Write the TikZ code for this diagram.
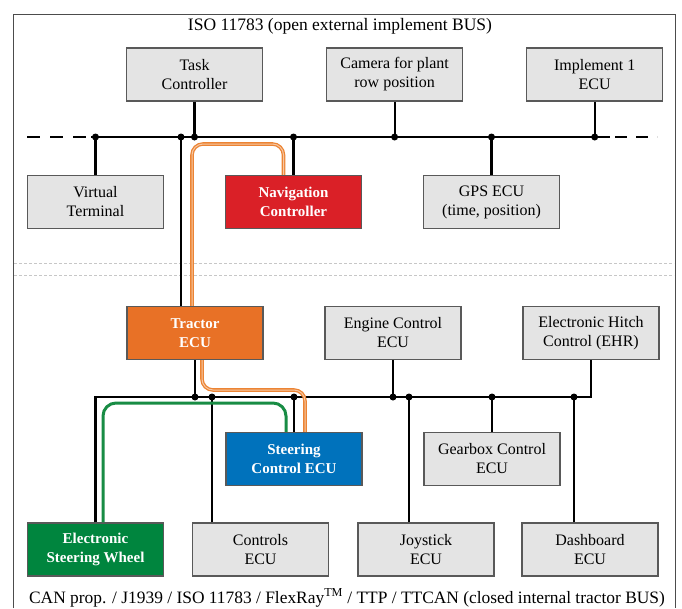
\documentclass[tikz,border=0pt]{standalone}
\usepackage{fontspec}
\setmainfont{Liberation Serif}
\usetikzlibrary{positioning, calc}

\definecolor{boxgray}{RGB}{228,228,228}
\definecolor{navred}{RGB}{218,32,39}
\definecolor{tracorange}{RGB}{232,113,38}
\definecolor{steerblue}{RGB}{0,114,188}
\definecolor{wheelgreen}{RGB}{0,133,62}
\definecolor{cableorange}{RGB}{236,132,52}
\definecolor{cablegreen}{RGB}{24,140,68}

\begin{document}
\begin{tikzpicture}[x=1pt, y=-1pt,
    ecu/.style={draw=black!65, line width=1.1pt, fill=boxgray, minimum width=136pt, minimum height=53pt,
        inner sep=0pt, align=center, font=\fontsize{16}{19}\selectfont},
    hotecu/.style={ecu, fill=#1, text=white, font=\fontsize{15}{19}\selectfont\bfseries},
    bus/.style={line width=2.2pt},
    tap/.style={line width=2.2pt},
    sepline/.style={black!22, line width=0.8pt, dash pattern=on 3pt off 2pt},
    orangecable/.style={draw=cableorange, double=cableorange!45, double distance=1pt, line width=1.3pt, rounded corners=11pt},
    greencable/.style={draw=cablegreen, line width=3pt, rounded corners=13pt}
]
    \useasboundingbox (0,0) rectangle (682,608);
    \draw [black!70, line width=1pt] (13,608) -- (13,14) -- (675,14) -- (675,608);
    \draw [sepline] (14,263) -- (674,263);
    \draw [sepline] (14,275) -- (674,275);

    \node (TopTitle) at (340,26) {\fontsize{17.5}{19}\selectfont ISO 11783 (open external implement BUS)};
    \node (BotTitle) at (347,598) {\fontsize{17.4}{19}\selectfont CAN prop. / J1939 / ISO 11783 / FlexRay\textsuperscript{TM} / TTP / TTCAN (closed internal tractor BUS)};

    % implement side
    \node (TaskCtrl) [ecu] at (194.5,74.5) {Task\\Controller};
    \node (Camera) [ecu, right=63pt of TaskCtrl] {Camera for plant\\row position};
    \node (Impl) [ecu, right=63pt of Camera] {Implement 1\\ECU};
    \node (VirtTerm) [ecu] at (95.5,202) {Virtual\\Terminal};
    \node (NavCtrl) [hotecu=navred] at (293.5,202) {Navigation\\Controller};
    \node (GPS) [ecu] at (491.5,202) {GPS ECU\\(time, position)};

    % tractor side
    \node (Tractor) [hotecu=tracorange] at (195,333) {Tractor\\ECU};
    \node (Engine) [ecu] at (393,333) {Engine Control\\ECU};
    \node (EHR) [ecu] at (591,333) {Electronic Hitch\\Control (EHR)};
    \node (SteerCtrl) [hotecu=steerblue] at (294,459) {Steering\\Control ECU};
    \node (Gearbox) [ecu] at (492,459) {Gearbox Control\\ECU};
    \node (ESW) [hotecu=wheelgreen] at (95.5,549.5) {Electronic\\Steering Wheel};
    \node (Controls) [ecu] at (260.5,549.5) {Controls\\ECU};
    \node (Joystick) [ecu] at (426,549.5) {Joystick\\ECU};
    \node (Dashboard) [ecu] at (590,549.5) {Dashboard\\ECU};

    \coordinate (TopBus) at (0,137);
    \coordinate (LowBus) at (0,397);
    \coordinate (TrUp) at ($(Tractor.north)+(-14,0)$);
    \coordinate (CtlUp) at ($(Controls.north)+(-48.5,0)$);
    \coordinate (JoyUp) at ($(Joystick.north)+(-17,0)$);
    \coordinate (DashUp) at ($(Dashboard.north)+(-16,0)$);

    % ISO 11783 bus
    \draw [bus, dash pattern=on 13pt off 10pt] (27,137) -- (89,137);
    \draw [bus] (91,137) -- (610,137);
    \draw [bus, dash pattern=on 12pt off 9pt] (615,137) -- (657,137);
    \foreach \n in {TaskCtrl, Camera, Impl, VirtTerm, NavCtrl, GPS}
        \draw [tap] (\n) -- (\n |- TopBus);
    \draw [tap] (TrUp) -- (TrUp |- TopBus);
    \foreach \n in {VirtTerm, TrUp, TaskCtrl, NavCtrl, Camera, GPS, Impl}
        \fill (\n |- TopBus) circle (3.5pt);

    % internal bus
    \draw [bus] (ESW.north) |- (EHR.south |- LowBus) -- (EHR.south);
    \foreach \n in {Tractor, Engine, SteerCtrl, Gearbox}
        \draw [tap] (\n) -- (\n |- LowBus);
    \foreach \n in {CtlUp, JoyUp, DashUp}
        \draw [tap] (\n) -- (\n |- LowBus);
    \foreach \n in {Tractor, CtlUp, SteerCtrl, Engine, JoyUp, Gearbox, DashUp}
        \fill (\n |- LowBus) circle (3.5pt);

    % cables
    \coordinate (OrTop) at (0,144);
    \coordinate (OrLow) at (0,390);
    \coordinate (GrLow) at (0,403);
    \coordinate (NavOut) at ($(NavCtrl.north)+(-10,0)$);
    \coordinate (TrIn) at ($(Tractor.north)+(-3,0)$);
    \coordinate (TrOut) at ($(Tractor.south)+(7,0)$);
    \coordinate (SteerOr) at ($(SteerCtrl.north)+(11,0)$);
    \coordinate (SteerGr) at ($(SteerCtrl.north)+(-8,0)$);
    \coordinate (EswOut) at ($(ESW.north)+(7.5,0)$);
    \draw [orangecable] (NavOut) |- (TrIn |- OrTop) -- (TrIn);
    \draw [orangecable] (TrOut) |- (SteerOr |- OrLow) -- (SteerOr);
    \draw [greencable] (EswOut) |- (SteerGr |- GrLow) -- (SteerGr);
\end{tikzpicture}
\end{document}
